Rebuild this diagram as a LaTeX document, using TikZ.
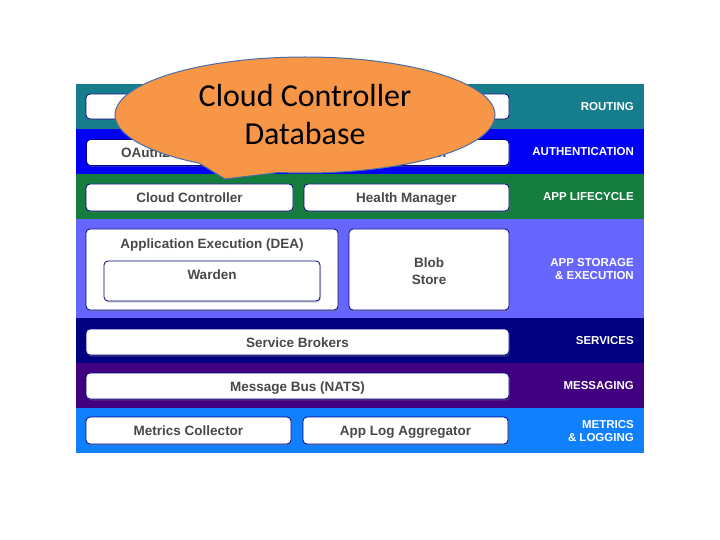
\documentclass[tikz,border=0pt]{standalone}
\usepackage{fontspec}
\setmainfont{Liberation Sans}
\newfontfamily\bubblefont{Carlito}
\usetikzlibrary{shapes.callouts,shadows,positioning}

\definecolor{routingc}{RGB}{22,125,140}
\definecolor{authc}{RGB}{0,0,245}
\definecolor{lifec}{RGB}{20,125,62}
\definecolor{storec}{RGB}{102,102,255}
\definecolor{servc}{RGB}{0,0,128}
\definecolor{msgc}{RGB}{64,0,128}
\definecolor{metricc}{RGB}{16,128,255}
\definecolor{boxtext}{RGB}{72,72,72}
\definecolor{bubblefill}{RGB}{247,150,70}
\definecolor{bubbleline}{RGB}{70,110,170}

\begin{document}
\begin{tikzpicture}[
  x=1pt, y=-1pt,
  boxlabel/.style={inner sep=0pt, text=boxtext, text height=10pt, text depth=0pt,
    font=\fontsize{13.5}{17}\selectfont\bfseries},
  comp/.style={boxlabel, draw=servc, fill=white, rounded corners=4pt, line width=0.8pt,
    drop shadow={opacity=0.35, shadow xshift=1pt, shadow yshift=-1.5pt},
    minimum height=26pt},
  layer/.style={anchor=east, text=white, align=right, inner sep=0pt,
    font=\fontsize{11.5}{13.5}\selectfont\bfseries}
]
\useasboundingbox (0,0) rectangle (720,540);

% layer bands
\fill[routingc] (76,84) rectangle (644,129);
\fill[authc]    (76,129) rectangle (644,174);
\fill[lifec]    (76,174) rectangle (644,219);
\fill[storec]   (76,219) rectangle (644,318);
\fill[servc]    (76,318) rectangle (644,363);
\fill[msgc]     (76,363) rectangle (644,408);
\fill[metricc]  (76,408) rectangle (644,453);

\node[layer] (lrouting) at (634,107) {ROUTING};
\node[layer] (lauth) at (634,152) {AUTHENTICATION};
\node[layer] (llife) at (634,197) {APP LIFECYCLE};
\node[layer] (lstore) at (634,269) {APP STORAGE\\\& EXECUTION};
\node[layer] (lserv) at (634,341) {SERVICES};
\node[layer] (lmsg) at (634,386) {MESSAGING};
\node[layer] (lmetric) at (634,431) {METRICS\\\& LOGGING};

% components
\node[comp, minimum width=423pt, minimum height=25pt] (router) at (297.5,106.5) {};
\node[comp, minimum width=206pt] (uaa) at (189.5,152.5) {OAuth2 Server (UAA)};
\node[comp, minimum width=205pt] (login) at (406.5,152.5) {Login Server};
\node[comp, minimum width=207pt, minimum height=27pt] (cc) at (189.5,197.5) {Cloud Controller};
\node[comp, minimum width=205pt, minimum height=27pt] (hm) at (406.5,197.5) {Health Manager};
\node[comp, minimum width=252pt, minimum height=81pt] (dea) at (212,269.5) {};
\node[boxlabel] (deatitle) at (212,243) {Application Execution (DEA)};
\node[comp, minimum width=216pt, minimum height=40pt] (warden) at (212,281) {};
\node[boxlabel] (wardentitle) at (212,274) {Warden};
\node[comp, minimum width=160pt, minimum height=81pt] (blob) at (429,269.5) {};
\node[boxlabel, align=center, text height=, text depth=] (blobtitle) at (429,271.5) {Blob\\Store};
\node[comp, minimum width=423pt] (brokers) at (297.5,342) {Service Brokers};
\node[comp, minimum width=423pt] (nats) at (297.5,386) {Message Bus (NATS)};
\node[comp, minimum width=205pt, minimum height=27pt] (collector) at (188.5,430.5) {Metrics Collector};
\node[comp, minimum width=205pt, minimum height=27pt] (logagg) at (405.5,430.5) {App Log Aggregator};

% callout
\coordinate (tip) at (225,179);
\node[ellipse callout, callout absolute pointer=(tip), callout pointer arc=26,
  draw=bubbleline, line width=1pt, fill=bubblefill,
  minimum width=380pt, minimum height=116pt, align=center,
  font=\bubblefont\fontsize{32}{38}\selectfont] (ccdb) at (305,115)
  {Cloud Controller\\Database};

\end{tikzpicture}
\end{document}
